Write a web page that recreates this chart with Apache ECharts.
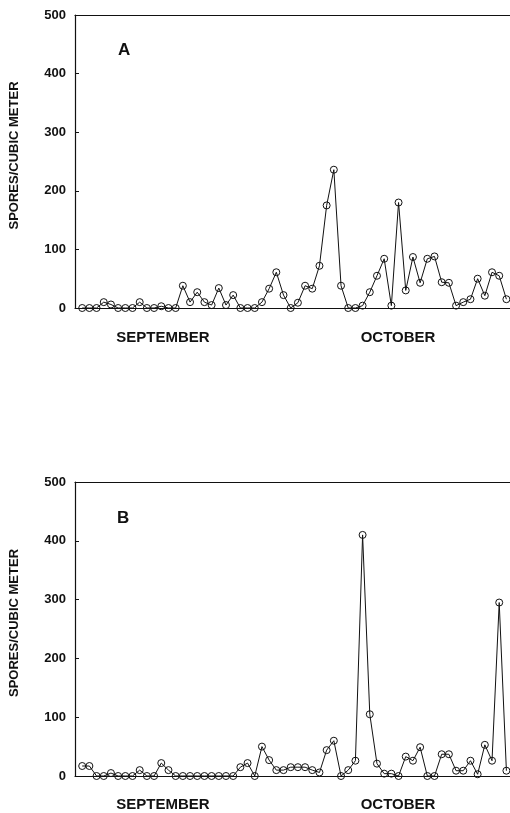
<!DOCTYPE html>
<html>
<head>
<meta charset="utf-8">
<title>Spores per cubic meter</title>
<script src="https://cdn.jsdelivr.net/npm/echarts@6/dist/echarts.min.js"></script>
<style>
    html, body { margin: 0; padding: 0; background: #fff; }
    #chart { width: 510px; height: 813px; }
</style>
</head>
<body>
<div id="chart"></div>
<script>
    'use strict';

    // daily counts, Sept 1 .. Oct 30
    var sporesA = [
        0, 0, 0, 10, 6, 0, 0, 0, 10, 0, 0, 3, 0, 0, 38,
        10, 27, 10, 5, 34, 5, 22, 0, 0, 0, 10, 33, 61, 22, 0,
        9, 38, 33, 72, 175, 236, 38, 0, 0, 4, 27, 55, 84, 4, 180,
        30, 87, 43, 84, 88, 44, 43, 4, 10, 15, 50, 21, 61, 55, 15
    ];
    var sporesB = [
        17, 17, 0, 0, 5, 0, 0, 0, 10, 0, 0, 22, 10, 0, 0,
        0, 0, 0, 0, 0, 0, 0, 15, 22, 0, 50, 27, 10, 10, 15,
        15, 15, 10, 6, 44, 60, 0, 10, 26, 410, 105, 21, 4, 4, 0,
        33, 26, 49, 0, 0, 37, 37, 9, 9, 26, 3, 53, 26, 295, 9
    ];
    var panels = ['A', 'B'];
    var months = ['SEPTEMBER', 'OCTOBER'];
    var yName = 'SPORES/CUBIC METER';

    var FONT = '"Liberation Sans", Arial, Helvetica, sans-serif';
    var INK = '#111';

    var chart = echarts.init(document.getElementById('chart'), null, { renderer: 'canvas' });

    var grids = [
        { left: 75, top: 15, right: 0, height: 293 },
        { left: 75, top: 482, right: 0, height: 294 }
    ];

    function pairs(values) {
        return values.map(function (v, i) { return [i + 1, v]; });
    }

    var axisLine = { show: true, onZero: false, lineStyle: { color: INK, width: 1.2 } };

    var xAxes = [], yAxes = [], series = [], graphics = [];
    [sporesA, sporesB].forEach(function (values, g) {
        xAxes.push({
            gridIndex: g, type: 'value', min: 0, max: 60.5,
            axisLine: axisLine, axisTick: { show: false },
            axisLabel: { show: false }, splitLine: { show: false }
        });
        // top frame line
        xAxes.push({
            gridIndex: g, type: 'value', position: 'top', min: 0, max: 60.5,
            axisLine: axisLine, axisTick: { show: false },
            axisLabel: { show: false }, splitLine: { show: false }
        });
        yAxes.push({
            gridIndex: g, type: 'value', min: 0, max: 500, interval: 100,
            name: yName, nameLocation: 'middle', nameGap: 54,
            nameTextStyle: {
                fontFamily: FONT, fontWeight: 'bold', fontSize: 13, color: INK,
                padding: [0, 0, 0, 12]
            },
            axisLine: axisLine,
            axisTick: { show: true, inside: true, length: 4, lineStyle: { color: INK } },
            axisLabel: { fontFamily: FONT, fontWeight: 'bold', fontSize: 13, color: INK, margin: 9 },
            splitLine: { show: false }
        });
        series.push({
            type: 'line',
            xAxisIndex: g * 2, yAxisIndex: g,
            data: pairs(values),
            symbol: 'circle', symbolSize: 7, showSymbol: true, clip: false,
            lineStyle: { color: INK, width: 1 },
            itemStyle: { color: 'rgba(255,255,255,0)', borderColor: INK, borderWidth: 1 },
            emphasis: { disabled: true }
        });
    });

    var monthX = [163, 398];
    var monthY = [338, 805];
    var letterPos = [[124, 51], [123, 519]];
    panels.forEach(function (p, g) {
        graphics.push({
            type: 'text', left: letterPos[g][0] - 6, top: letterPos[g][1] - 9,
            style: { text: p, fill: INK, font: 'bold 17px ' + FONT }
        });
        months.forEach(function (m, k) {
            graphics.push({
                type: 'text', x: monthX[k], y: monthY[g],
                style: { text: m, fill: INK, font: 'bold 15px ' + FONT, align: 'center', verticalAlign: 'middle' }
            });
        });
    });

    chart.setOption({
        animation: false,
        backgroundColor: '#fff',
        grid: grids,
        xAxis: xAxes,
        yAxis: yAxes,
        series: series,
        graphic: graphics
    });
</script>
</body>
</html>
